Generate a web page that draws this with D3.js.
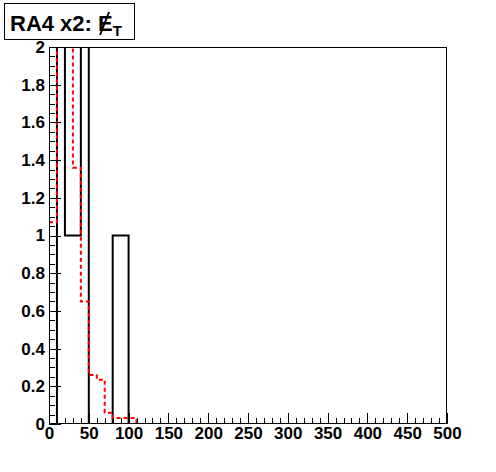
<!DOCTYPE html>
<html>
<head>
<meta charset="utf-8">
<script src="https://cdn.jsdelivr.net/npm/d3@7"></script>
<style>
  body { margin:0; background:#fff; }
  text { font-family:"Liberation Sans", Arial, sans-serif; font-weight:bold; fill:#000; }
</style>
</head>
<body>
<div id="chart"></div>
<script>
// bin lower edges (width 10) and contents
let binEdges = d3.range(0, 501, 10)
let blackCounts = [0, 2, 1, 1, 2, 0, 0, 0, 1, 1]
let redCounts = [1.07, 2.6, 2.2, 1.36, 0.65, 0.26, 0.235, 0.06, 0.032, 0.032, 0.032]
let xTicks = [0, 50, 100, 150, 200, 250, 300, 350, 400, 450, 500]
let xTickLabels = ["0", "50", "100", "150", "200", "250", "300", "350", "400", "450", "500"]
let yTicks = [0, 0.2, 0.4, 0.6, 0.8, 1, 1.2, 1.4, 1.6, 1.8, 2]
let yTickLabels = ["0", "0.2", "0.4", "0.6", "0.8", "1", "1.2", "1.4", "1.6", "1.8", "2"]

function render(){
  let width = 496, height = 472,
      margin = { top:47, left:49, right:49, bottom:48 }
  let xScale = d3.scaleLinear().domain([0, 500]).range([margin.left, width - margin.right])
  let yScale = d3.scaleLinear().domain([0, 2]).range([height - margin.bottom, margin.top])

  let svg = d3.select("#chart").append("svg").attr("width", width).attr("height", height)

  svg.append("clipPath").attr("id", "frameClip").append("rect")
     .attr("x", xScale(0)).attr("y", yScale(2))
     .attr("width", xScale(500) - xScale(0)).attr("height", yScale(0) - yScale(2))

  // histogram outline as steps, padded to 50 bins
  let toPoints = counts => {
    let vals = binEdges.slice(0, 50).map((e, i) => counts[i] || 0)
    let pts = vals.map((v, i) => [binEdges[i], v])
    pts.push([500, vals[49]])
    return pts
  }
  let stepLine = d3.line().x(d => xScale(d[0])).y(d => yScale(d[1])).curve(d3.curveStepAfter)

  let plot = svg.append("g").attr("clip-path", "url(#frameClip)")

  // axes: ticks drawn inside the frame
  let xMinor = d3.axisBottom(xScale).tickValues(d3.range(0, 501, 10)).tickSize(-6).tickFormat("")
  let xMajor = d3.axisBottom(xScale).tickValues(xTicks).tickSize(-11).tickPadding(3)
                 .tickFormat((d, i) => xTickLabels[i])
  let yMinor = d3.axisLeft(yScale).tickValues(d3.range(0, 2.001, 0.05)).tickSize(-6).tickFormat("")
  let yMajor = d3.axisLeft(yScale).tickValues(yTicks).tickSize(-12).tickPadding(4)
                 .tickFormat((d, i) => yTickLabels[i])

  let axes = [
    svg.append("g").attr("transform", `translate(0,${yScale(0)})`).call(xMinor),
    svg.append("g").attr("transform", `translate(0,${yScale(0)})`).call(xMajor),
    svg.append("g").attr("transform", `translate(${xScale(0)},0)`).call(yMinor),
    svg.append("g").attr("transform", `translate(${xScale(0)},0)`).call(yMajor)
  ]
  axes.forEach(a => {
    a.select(".domain").remove()
    a.selectAll("line").attr("stroke", "#000").attr("shape-rendering", "crispEdges")
    a.selectAll("text").attr("font-size", 17).attr("font-family", null)
  })

  plot.append("path").attr("d", stepLine(toPoints(blackCounts)))
      .attr("fill", "none").attr("stroke", "#000").attr("stroke-width", 2)
  plot.append("path").attr("d", stepLine(toPoints(redCounts)))
      .attr("fill", "none").attr("stroke", "#ff0000").attr("stroke-width", 2)
      .attr("stroke-dasharray", "4,3")

  svg.append("rect").attr("x", xScale(0) + 0.5).attr("y", yScale(2) + 0.5)
     .attr("width", xScale(500) - xScale(0) - 1).attr("height", yScale(0) - yScale(2) - 1)
     .attr("fill", "none").attr("stroke", "#000").attr("stroke-width", 1)

  // title box, missing-ET symbol = E with a slash line through it
  svg.append("rect").attr("x", 4.5).attr("y", 3.5).attr("width", 130).attr("height", 36)
     .attr("fill", "#fff").attr("stroke", "#000").attr("stroke-width", 1)
  let title = svg.append("text").attr("x", 10).attr("y", 31).attr("font-size", 22)
  title.append("tspan").text("RA4 x2: E")
  title.append("tspan").attr("font-size", 15).attr("dy", 5).text("T")
  let ex = 10 + title.node().getSubStringLength(0, 8)
  svg.append("line").attr("x1", ex + 2).attr("y1", 35).attr("x2", ex + 11).attr("y2", 12)
     .attr("stroke", "#000").attr("stroke-width", 2)
}

render()
</script>
</body>
</html>
